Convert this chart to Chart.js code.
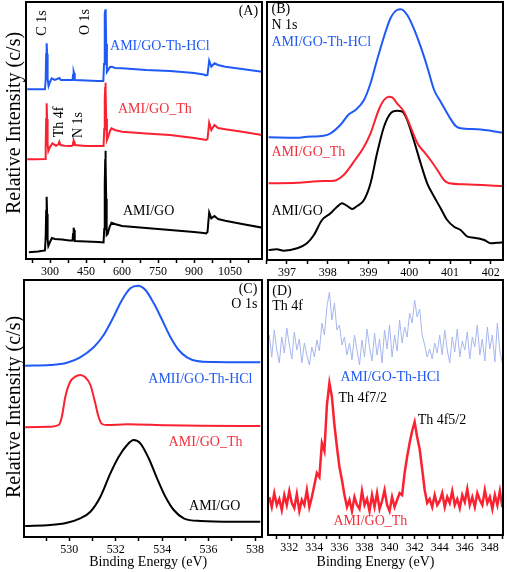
<!DOCTYPE html>
<html><head><meta charset="utf-8">
<script src="https://cdn.jsdelivr.net/npm/chart.js@4/dist/chart.umd.min.js"></script>
<style>
html,body{margin:0;padding:0;background:#fff;width:507px;height:572px;overflow:hidden}
canvas{position:absolute;left:0;top:0}
</style></head><body>
<canvas id="cA" width="507" height="572"></canvas>
<canvas id="cB" width="507" height="572"></canvas>
<canvas id="cC" width="507" height="572"></canvas>
<canvas id="cD" width="507" height="572"></canvas>
<script>
// ---------- Panel A: survey spectra ----------
const surveyBlackE = [212,250,279,282,284,286,288,290,293,300,308,320,350,380,394,396,398,399,400,402,404,450,500,523,526,528,530,531,532,534,536,540,548,556,570,600,700,800,900,940,950,956,963,972,985,1000,1030,1100,1185];
const surveyBlackI = [6.7,7.5,8.5,22,48,62.3,45,20,13,17,21,20,19.5,18.5,18.5,25,30,31.3,29,22,18,17.5,17,16.5,30,75,100,108.3,98,60,24,25,32,36.3,35,33,31,29,27,26,25.5,27,46.7,40.7,43,40,38.3,35,31.3];
const surveyRedE = [205,240,280,282,284,286,288,290,293,300,310,325,335,339,343,360,390,395,397,399,401,403,450,500,523,526,528,530,531,532,534,537,542,550,556,570,600,700,800,900,940,950,956,963,972,985,1000,1030,1100,1185];
const surveyRedI = [99.7,99.7,100,112,140,155.7,140,115,108,112,115.7,113.3,115,117.3,114,113.3,113,114,117,118.3,117,114,113,113,113,130,160,172,176.3,168,140,119,122,128,130.7,129,127.3,125.5,124,121,119.5,119,120,136.3,129,134,131,129.7,127.3,124];
const surveyBlueE = [205,240,279,282,284,286,288,290,294,300,307,320,339,345,380,394,396,398,399,400,402,404,450,500,522,525,527,529,531,532,534,537,542,550,558,570,600,700,800,900,940,950,956,963,972,985,1000,1030,1100,1185];
const surveyBlueI = [169.7,169.7,169.7,180,205,215.7,205,180,173,177,180.7,179,181,179,179,179,184,186,187.3,186,182,179,178.5,178,178,195,225,245,249.7,244,215,187,189,192,192.3,191,190.7,189,188,186,184.5,183.5,184,198.3,192.3,195.7,194,192.3,190,187.3];
const surveyTicksMajor = [300,450,600,750,900,1050];
const surveyTicksMinor = [225,375,525,675,825,975,1125];

// ---------- Panel B: N 1s ----------
const n1sBlueE = [396.55,397.25,397.49,397.9,398.07,398.31,398.52,398.68,398.89,399.05,399.21,399.38,399.54,399.7,399.79,399.95,400.11,400.28,400.44,400.61,400.77,400.98,401.14,401.26,401.67,402.31];
const n1sBlueI = [122.7,122.3,123.3,124.3,126.7,135,145.7,150,160,176.7,200,223.3,241.7,250,250.7,245,231.7,213.3,193.3,170,158.3,143.3,134,131.7,130.7,127.3];
const n1sRedE = [396.55,397.25,397.9,398.15,398.39,398.64,398.89,399.05,399.25,399.38,399.5,399.58,399.7,399.87,400.03,400.2,400.36,400.52,400.69,400.85,400.98,401.34,402.31];
const n1sRedI = [76.7,77.3,79,79.3,85,98.3,113.3,126.7,150,160,163.3,162.7,156.7,148.3,133.3,116.7,108.3,100,90,80,76.7,75.7,74];
const n1sBlackE = [396.55,396.75,396.92,397.25,397.49,397.66,397.86,398.07,398.23,398.35,398.48,398.6,398.72,398.89,399.05,399.21,399.38,399.54,399.7,399.83,399.95,400.11,400.28,400.44,400.61,400.77,400.93,401.1,401.26,401.43,401.59,401.84,402.0,402.16,402.31];
const n1sBlackI = [10,10.7,9.3,11.7,16.7,25,40,46.7,53.3,56.7,54,51,54,60,76.7,106.7,133.3,146.7,149.3,148.3,140,120,96.7,76.7,63.3,51.7,40,33.3,30,23.3,22.3,20,16.7,17.3,17.7];
const n1sTicksMajor = [397,398,399,400,401,402];
const n1sTicksMinor = [396.5,397.5,398.5,399.5,400.5,401.5];

// ---------- Panel C: O 1s ----------
const o1sBlueE = [528.1,529.18,529.9,530.47,531.05,531.48,531.91,532.27,532.63,532.96,533.28,533.64,534.0,534.35,534.71,535.07,535.5,536.22,538.23];
const o1sBlueI = [171.3,172,174.3,179.7,189.7,202,220.3,237,248.7,251.3,247,233.7,217,200.3,187,179.7,176,175,174.7];
const o1sRedE = [528.1,529.18,529.54,529.68,529.83,530.04,530.26,530.47,530.69,530.91,531.12,531.26,531.41,531.62,532.49,534.21,535.65,538.23];
const o1sRedI = [109.7,110.3,112,120.3,140.3,155.3,160.3,162,159.7,152,133.7,120.3,113,112,112.7,111.7,111.3,111];
const o1sBlackE = [528.1,529.18,529.9,530.47,530.91,531.34,531.77,532.13,532.49,532.77,533.06,533.42,533.78,534.14,534.5,534.93,535.65,537.08,538.23];
const o1sBlackI = [11,12,14.3,18.7,25.3,40.3,63.7,80.3,92,97,93.7,78.7,58.7,40.3,27,18.7,16,15.3,15.3];
const o1sTicksMajor = [530,532,534,536,538];
const o1sTicksMinor = [529,531,533,535,537];

// ---------- Panel D: Th 4f ----------
const th4fE = [330.4,330.6,330.8,331.0,331.2,331.4,331.6,331.8,332.0,332.2,332.4,332.6,332.8,333.0,333.2,333.4,333.6,333.8,334.0,334.2,334.4,334.6,334.8,335.0,335.2,335.4,335.6,335.8,336.0,336.2,336.4,336.6,336.8,337.0,337.2,337.4,337.6,337.8,338.0,338.2,338.4,338.6,338.8,339.0,339.2,339.4,339.6,339.8,340.0,340.2,340.4,340.6,340.8,341.0,341.2,341.4,341.6,341.8,342.0,342.2,342.4,342.6,342.8,343.0,343.2,343.4,343.6,343.8,344.0,344.2,344.4,344.6,344.8,345.0,345.2,345.4,345.6,345.8,346.0,346.2,346.4,346.6,346.8,347.0,347.2,347.4,347.6,347.8,348.0,348.2,348.4,348.6,348.8,349.0];
const th4fBlueI = [200,178,205,185,172,198,182,207,190,176,
  203,185,196,172,192,180,170,188,178,195,
  184,212,200,228,243,215,232,205,210,190,
  198,180,192,175,200,185,170,195,178,206,
  188,174,202,180,196,172,205,186,210,178,
  200,184,215,192,208,198,222,212,235,218,
  226,200,190,178,186,176,192,182,200,180,
  205,185,172,198,183,206,178,194,185,203,
  176,198,188,210,180,196,174,208,186,200,
  173,212,184,172];
const th4fRedI = [38,28,42,30,36,25,40,30,44,32,
  27,41,24,35,30,45,28,38,50,62,
  58,92,84,130,152,138,110,88,68,55,
  40,28,35,24,38,30,26,44,30,36,
  24,40,28,42,26,34,45,30,24,38,
  28,35,42,40,62,78,92,104,113,98,
  86,66,45,32,36,28,40,30,34,42,
  28,38,32,44,30,36,27,40,33,46,
  30,38,28,42,35,30,45,32,38,26,
  40,30,44,28];
const th4fTicksMajor = [332,334,336,338,340,342,344,346,348];
const th4fTicksMinor = [331,333,335,337,339,341,343,345,347,349];

// ---------- styling ----------
const SERIF = "'Liberation Serif','Times New Roman',serif";
const BLUE = '#1f5af5', RED = '#fa2230', LIGHTBLUE = '#a6b7ef', BLACK = '#000000';
const RED_TXT = '#f2303c';
const Y_TITLE = 'Relative Intensity (c/s)';
const X_TITLE = 'Binding Energy (eV)';

const framePlugin = {
  id: 'frame',
  afterDraw(chart) {
    const {ctx, chartArea: a} = chart;
    ctx.save();
    ctx.strokeStyle = '#000'; ctx.lineWidth = 2;
    ctx.strokeRect(a.left, a.top, a.right - a.left, a.bottom - a.top);
    ctx.restore();
  }
};
function makeNotes(items) {
  return {
    id: 'notes',
    afterDraw(chart) {
      const ctx = chart.ctx, xs = chart.scales.x, ys = chart.scales.y;
      items.forEach(it => {
        const px = xs.getPixelForValue(it.x), py = ys.getPixelForValue(it.y);
        ctx.save();
        ctx.font = (it.size || 14) + 'px ' + SERIF;
        ctx.fillStyle = it.color || '#000';
        ctx.textAlign = it.align || 'left';
        ctx.textBaseline = 'middle';
        ctx.translate(px, py);
        if (it.rot) ctx.rotate(-Math.PI / 2);
        ctx.fillText(it.text, 0, 0);
        ctx.restore();
      });
    }
  };
}
function series(e, v, color, width, smooth) {
  return {
    data: e.map((x, i) => ({x: x, y: v[i]})),
    borderColor: color, borderWidth: width, pointRadius: 0, fill: false,
    tension: smooth ? 0.4 : 0, cubicInterpolationMode: smooth ? 'monotone' : 'default'
  };
}
function makePanel(id, cfg) {
  const allTicks = cfg.major.concat(cfg.minor).sort((a, b) => a - b);
  return new Chart(document.getElementById(id), {
    type: 'line',
    data: {datasets: cfg.series},
    options: {
      responsive: false, animation: false, events: [],
      layout: {padding: {left: cfg.area.left, top: cfg.area.top, right: 507 - cfg.area.right, bottom: 572 - cfg.area.bottom - cfg.xH}},
      plugins: {legend: {display: false}, tooltip: {enabled: false}},
      scales: {
        x: {
          type: 'linear', min: cfg.xmin, max: cfg.xmax,
          afterBuildTicks(s) { s.ticks = allTicks.map(v => ({value: v})); },
          afterFit(s) { s.height = cfg.xH; s.paddingLeft = 0; s.paddingRight = 0; },
          ticks: {autoSkip: false, maxRotation: 0, minRotation: 0, padding: 2, color: '#000',
            font: {family: SERIF, size: 12},
            callback: (v) => cfg.major.includes(v) ? String(v) : ''},
          grid: {drawOnChartArea: false, drawTicks: true, tickLength: 4, tickColor: '#000', tickWidth: 1.5},
          border: {display: false}
        },
        y: {min: 0, max: cfg.ymax, display: false}
      }
    },
    plugins: [framePlugin, makeNotes(cfg.notes)]
  });
}

makePanel('cA', {
  area: {left: 26, top: 2, right: 262, bottom: 259}, xH: 20,
  xmin: 200, xmax: 1183, ymax: 257, major: surveyTicksMajor, minor: surveyTicksMinor,
  series: [
    series(surveyBlackE, surveyBlackI, BLACK, 2, false),
    series(surveyRedE, surveyRedI, RED, 2, false),
    series(surveyBlueE, surveyBlueI, BLUE, 2, false)
  ],
  notes: [
    {text: Y_TITLE, x: 154, y: 136, rot: true, align: 'center', size: 20},
    {text: 'C 1s', x: 266.7, y: 236, rot: true, align: 'center'},
    {text: 'O 1s', x: 445.8, y: 237, rot: true, align: 'center'},
    {text: 'Th 4f', x: 337.5, y: 137, rot: true, align: 'center'},
    {text: 'N 1s', x: 416.7, y: 134, rot: true, align: 'center'},
    {text: 'AMI/GO-Th-HCl', x: 550, y: 213, color: BLUE},
    {text: 'AMI/GO_Th', x: 583, y: 150, color: RED_TXT},
    {text: 'AMI/GO', x: 604, y: 48},
    {text: '(A)', x: 1166.7, y: 248, align: 'right'}
  ]
});
makePanel('cB', {
  area: {left: 267, top: 2, right: 503, bottom: 260}, xH: 20,
  xmin: 396.51, xmax: 402.3, ymax: 258, major: n1sTicksMajor, minor: n1sTicksMinor,
  series: [
    series(n1sBlueE, n1sBlueI, BLUE, 2, true),
    series(n1sRedE, n1sRedI, RED, 2, true),
    series(n1sBlackE, n1sBlackI, BLACK, 2, true)
  ],
  notes: [
    {text: '(B)', x: 396.62, y: 251},
    {text: 'N 1s', x: 396.62, y: 235},
    {text: 'AMI/GO-Th-HCl', x: 396.62, y: 217.5, color: BLUE},
    {text: 'AMI/GO_Th', x: 396.62, y: 107.5, color: RED_TXT},
    {text: 'AMI/GO', x: 396.62, y: 49}
  ]
});
makePanel('cC', {
  area: {left: 24, top: 280, right: 262, bottom: 537}, xH: 35,
  xmin: 528.05, xmax: 538.3, ymax: 257, major: o1sTicksMajor, minor: o1sTicksMinor,
  series: [
    series(o1sBlueE, o1sBlueI, BLUE, 2, true),
    series(o1sRedE, o1sRedI, RED, 2, true),
    series(o1sBlackE, o1sBlackI, BLACK, 2, true)
  ],
  notes: [
    {text: Y_TITLE, x: 527.67, y: 130, rot: true, align: 'center', size: 20},
    {text: X_TITLE, x: 533.4, y: -25.5, align: 'center'},
    {text: '(C)', x: 538.1, y: 248, align: 'right'},
    {text: 'O 1s', x: 538.1, y: 233, align: 'right'},
    {text: 'AMII/GO-Th-HCl', x: 537.89, y: 158, align: 'right', color: BLUE},
    {text: 'AMI/GO_Th', x: 537.46, y: 94.5, align: 'right', color: RED_TXT},
    {text: 'AMI/GO', x: 537.37, y: 31, align: 'right'}
  ]
});
makePanel('cD', {
  area: {left: 268, top: 280, right: 503, bottom: 535}, xH: 37,
  xmin: 330.3, xmax: 349.05, ymax: 255, major: th4fTicksMajor, minor: th4fTicksMinor,
  series: [
    series(th4fE, th4fBlueI, LIGHTBLUE, 1, false),
    series(th4fE, th4fRedI, RED, 2.5, false)
  ],
  notes: [
    {text: X_TITLE, x: 338.88, y: -27.5, align: 'center'},
    {text: '(D)', x: 330.64, y: 244},
    {text: 'Th 4f', x: 330.64, y: 229},
    {text: 'AMI/GO-Th-HCl', x: 336.08, y: 157.5, color: BLUE},
    {text: 'Th 4f7/2', x: 335.92, y: 137},
    {text: 'Th 4f5/2', x: 342.24, y: 115},
    {text: 'AMI/GO_Th', x: 335.52, y: 14, color: RED_TXT}
  ]
});
</script>
</body></html>
